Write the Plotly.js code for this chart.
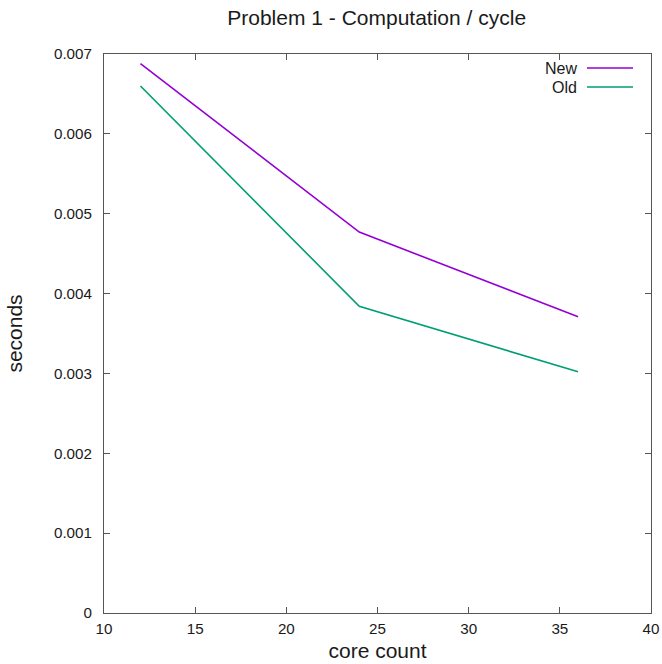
<!DOCTYPE html>
<html>
<head>
<meta charset="utf-8">
<script src="https://cdn.plot.ly/plotly-3.0.1.min.js"></script>
<style>html,body{margin:0;padding:0;background:#fff;}</style>
</head>
<body>
<div id="chart" style="width:662px;height:664px;"></div>
<script>
const coreCount = [12, 24, 36];
const newSeconds = [0.00688, 0.00477, 0.00371];
const oldSeconds = [0.00660, 0.00384, 0.00302];
const seriesNames = ["New", "Old"];
const seriesColors = ["#9400d3", "#009e73"];

const W = 662, H = 664;
const m = {l: 104, r: 11, t: 54, b: 51};
const pw = W - m.l - m.r, ph = H - m.t - m.b;
function px2paperX(px){ return (px - m.l) / pw; }
function px2paperY(py){ return (H - m.b - py) / ph; }
const FONT = 'Liberation Sans, Arial, sans-serif';
const TXT = '#1a1a1a';

const traces = [newSeconds, oldSeconds].map((ys, i) => ({
  x: coreCount, y: ys, type: 'scatter', mode: 'lines',
  name: seriesNames[i], line: {color: seriesColors[i], width: 1.6},
  showlegend: false
}));

const legendY = [68, 87];
const shapes = seriesNames.map((n, i) => ({
  type: 'line', xref: 'paper', yref: 'paper',
  x0: px2paperX(587), x1: px2paperX(633),
  y0: px2paperY(legendY[i]), y1: px2paperY(legendY[i]),
  line: {color: seriesColors[i], width: 1.6}
}));
const annotations = seriesNames.map((n, i) => ({
  xref: 'paper', yref: 'paper', x: px2paperX(579), y: px2paperY(legendY[i]),
  xanchor: 'right', yanchor: 'middle', text: n, showarrow: false,
  font: {family: FONT, size: 16, color: TXT}
}));

const axisCommon = {
  showgrid: false, zeroline: false, showline: true, mirror: 'ticks',
  linecolor: '#555', linewidth: 1, ticks: 'inside', ticklen: 6,
  tickcolor: '#555', tickwidth: 1,
  tickfont: {family: FONT, size: 15.2, color: TXT}
};

const layout = {
  width: W, height: H, margin: m,
  paper_bgcolor: '#fff', plot_bgcolor: '#fff',
  font: {family: FONT, color: TXT},
  title: {text: 'Problem 1 - Computation / cycle', x: 0.569, xanchor: 'center', y: 0.974, yanchor: 'middle',
          font: {size: 21, color: TXT}},
  xaxis: Object.assign({}, axisCommon, {
    range: [10, 40], dtick: 5, tick0: 10, ticklabelstandoff: 2,
    title: {text: 'core count', font: {size: 21, color: TXT}, standoff: 7}
  }),
  yaxis: Object.assign({}, axisCommon, {
    range: [0, 0.007], dtick: 0.001, tick0: 0, ticklabelstandoff: 8,
    title: {text: 'seconds', font: {size: 21, color: TXT}, standoff: 25}
  }),
  shapes: shapes,
  annotations: annotations
};

Plotly.newPlot('chart', traces, layout, {displayModeBar: false, staticPlot: true});
</script>
</body>
</html>
